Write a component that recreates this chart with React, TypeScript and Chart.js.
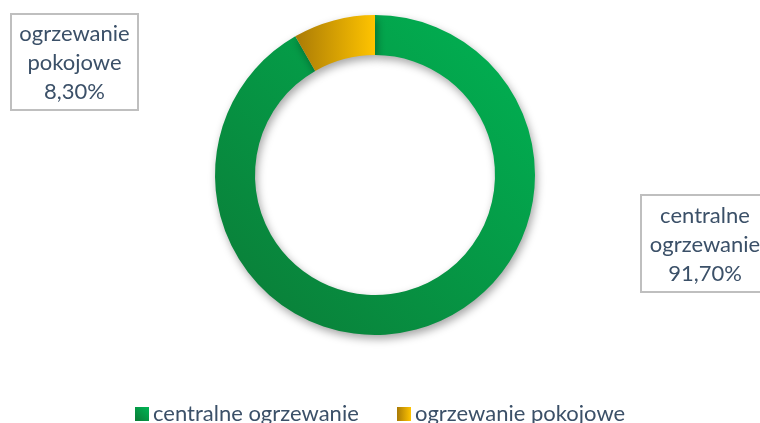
import React, { useEffect, useRef } from "react";
import { Chart, registerables } from "chart.js";
Chart.register(...registerables);

const categories = ["centralne ogrzewanie", "ogrzewanie pokojowe"];
const values = [91.7, 8.3];
const labelLines = [
  ["centralne", "ogrzewanie", "91,70%"],
  ["ogrzewanie", "pokojowe", "8,30%"],
];

const FONT = "Lato, 'Open Sans', sans-serif";
const TEXT = "#3B5068";

function greenGrad(ctx: CanvasRenderingContext2D, x0: number, y0: number, x1: number, y1: number) {
  const g = ctx.createLinearGradient(x0, y0, x1, y1);
  g.addColorStop(0, "#00B454");
  g.addColorStop(1, "#0B7A36");
  return g;
}
function goldGrad(ctx: CanvasRenderingContext2D, x0: number, x1: number) {
  const g = ctx.createLinearGradient(x0, 0, x1, 0);
  g.addColorStop(0, "#A97A06");
  g.addColorStop(1, "#FFC400");
  return g;
}

const shadowPlugin = {
  id: "shadow",
  beforeDatasetsDraw(chart: any) {
    const ctx = chart.ctx;
    ctx.save();
    ctx.shadowColor = "rgba(0,0,0,0.35)";
    ctx.shadowBlur = 8;
    ctx.shadowOffsetX = 2;
    ctx.shadowOffsetY = 4;
  },
  afterDatasetsDraw(chart: any) {
    chart.ctx.restore();
  },
};

const overlayPlugin = {
  id: "overlay",
  afterDraw(chart: any) {
    const ctx: CanvasRenderingContext2D = chart.ctx;
    const ca = chart.chartArea;
    const cx = (ca.left + ca.right) / 2;
    const cy = (ca.top + ca.bottom) / 2;
    const boxes = [
      { x: cx + 330, y: cy + 68.5, w: 128, h: 97, lines: labelLines[0] },
      { x: cx - 300.5, y: cy - 113, w: 127, h: 96, lines: labelLines[1] },
    ];
    ctx.save();
    for (const b of boxes) {
      ctx.fillStyle = "#ffffff";
      ctx.fillRect(b.x - b.w / 2, b.y - b.h / 2, b.w, b.h);
      ctx.strokeStyle = "#BFBFBF";
      ctx.lineWidth = 2;
      ctx.strokeRect(b.x - b.w / 2, b.y - b.h / 2, b.w, b.h);
      ctx.fillStyle = TEXT;
      ctx.font = `22px ${FONT}`;
      ctx.textAlign = "center";
      ctx.textBaseline = "middle";
      b.lines.forEach((t, i) => ctx.fillText(t, b.x, b.y + (i - 1) * 29 + 1));
    }
    const ly = 421;
    ctx.font = `22px ${FONT}`;
    ctx.textAlign = "left";
    ctx.textBaseline = "alphabetic";
    const items = [
      { x: 135, label: categories[0], fill: greenGrad(ctx, 148, 407, 135, 421) },
      { x: 397, label: categories[1], fill: goldGrad(ctx, 397, 411) },
    ];
    for (const it of items) {
      ctx.fillStyle = it.fill;
      ctx.fillRect(it.x, ly - 14, 14, 14);
      ctx.fillStyle = TEXT;
      ctx.fillText(it.label, it.x + 18, ly);
    }
    ctx.restore();
  },
};

export default function App() {
  const ref = useRef<HTMLCanvasElement>(null);
  useEffect(() => {
    if (!ref.current) return;
    const chart = new Chart(ref.current, {
      type: "doughnut",
      data: {
        labels: categories,
        datasets: [
          {
            data: values,
            borderWidth: 0,
            backgroundColor: (c: any) => {
              const ch = c.chart;
              const ca = ch.chartArea;
              if (!ca) return "#00B050";
              if (c.dataIndex === 0) return greenGrad(ch.ctx, ca.right, ca.top, ca.left, ca.bottom);
              const cx = (ca.left + ca.right) / 2;
              return goldGrad(ch.ctx, cx - 80, cx);
            },
          },
        ],
      },
      options: {
        responsive: false,
        animation: false,
        cutout: "75%",
        layout: { padding: { left: 215, right: 225, top: 15, bottom: 88 } },
        plugins: { legend: { display: false }, tooltip: { enabled: false } },
      },
      plugins: [shadowPlugin, overlayPlugin],
    });
    return () => chart.destroy();
  }, []);
  return (
    <div style={{ position: "absolute", left: 0, top: 0, width: 760, height: 423, background: "#fff" }}>
      <canvas ref={ref} width={760} height={423} style={{ width: 760, height: 423 }} />
    </div>
  );
}
